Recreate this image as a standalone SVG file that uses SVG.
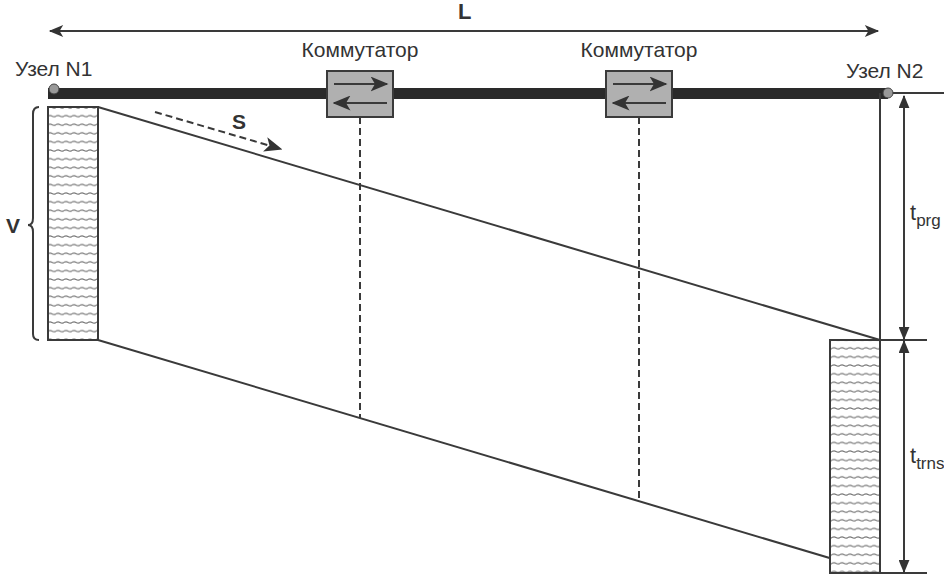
<svg xmlns="http://www.w3.org/2000/svg" width="944" height="576" viewBox="0 0 944 576">
<defs>
<style>
.t{font-family:"Liberation Sans",Arial,sans-serif;fill:#333;}
.ln{stroke:#3a3a3a;stroke-width:2;fill:none;}
.dash{stroke:#3a3a3a;stroke-width:2;stroke-dasharray:7 4;fill:none;}
.sw{fill:#b0b0b0;stroke:#3a3a3a;stroke-width:2;}
.pkt{fill:url(#hatch);stroke:#3a3a3a;stroke-width:2;}
</style>
<pattern id="hatch" patternUnits="userSpaceOnUse" width="8" height="8.6">
<rect width="8" height="8.6" fill="#fff"/>
<path d="M0 4.3 Q2 3 4 4.3 T8 4.3" stroke="#777" stroke-width="1.2" fill="none"/>
</pattern>
<marker id="ah" viewBox="0 0 12 10" refX="11" refY="5" markerWidth="13" markerHeight="11" markerUnits="userSpaceOnUse" orient="auto-start-reverse">
<path d="M0 0 L12 5 L0 10 Z" fill="#333"/>
</marker>
<marker id="ahs" viewBox="0 0 12 10" refX="11" refY="5" markerWidth="16" markerHeight="12" markerUnits="userSpaceOnUse" orient="auto-start-reverse">
<path d="M0 0 L12 5 L0 10 L3 5 Z" fill="#333"/>
</marker>
<marker id="ahw" viewBox="0 0 12 10" refX="11" refY="5" markerWidth="18" markerHeight="15" markerUnits="userSpaceOnUse" orient="auto">
<path d="M0 0 L12 5 L0 10 L3 5 Z" fill="#333"/>
</marker>
</defs>
<rect width="944" height="576" fill="#fff"/>

<g id="connectors">
<line class="ln" x1="50" y1="31" x2="878" y2="31" marker-start="url(#ahs)" marker-end="url(#ahs)"/>
<line x1="48" y1="93.5" x2="888" y2="93.5" stroke="#2a2a2a" stroke-width="11"/>
<line class="dash" x1="360" y1="117" x2="360" y2="418"/>
<line class="dash" x1="639" y1="117" x2="639" y2="501"/>
<line class="ln" x1="98" y1="107" x2="880" y2="340"/>
<line class="ln" x1="98" y1="340" x2="880" y2="573"/>
<line class="dash" x1="155" y1="112" x2="281" y2="149" marker-end="url(#ahw)"/>
<line class="ln" x1="880" y1="93" x2="880" y2="574"/>
<line class="ln" x1="888" y1="93" x2="944" y2="93"/>
<line class="ln" x1="880" y1="340" x2="927" y2="340"/>
<line class="ln" x1="880" y1="573" x2="927" y2="573"/>
<line class="ln" x1="904" y1="96" x2="904" y2="339" marker-start="url(#ah)" marker-end="url(#ah)"/>
<line class="ln" x1="904" y1="341" x2="904" y2="572" marker-start="url(#ah)" marker-end="url(#ah)"/>
</g>

<g id="node1">
<circle cx="54" cy="89" r="5" fill="#999" stroke="#444" stroke-width="1"/>
<text class="t" x="15" y="76" font-size="21">Узел N1</text>
</g>
<g id="node2">
<circle cx="888" cy="93" r="5" fill="#999" stroke="#444" stroke-width="1"/>
<text class="t" x="846" y="78" font-size="21">Узел N2</text>
</g>

<g id="switch1">
<rect class="sw" x="327" y="71" width="66" height="46"/>
<line class="ln" x1="334" y1="84" x2="387" y2="84" marker-end="url(#ahw)"/>
<line class="ln" x1="387" y1="103" x2="334" y2="103" marker-end="url(#ahw)"/>
<text class="t" x="360" y="57" font-size="21" text-anchor="middle">Коммутатор</text>
</g>
<g id="switch2">
<rect class="sw" x="606" y="71" width="66" height="46"/>
<line class="ln" x1="613" y1="84" x2="666" y2="84" marker-end="url(#ahw)"/>
<line class="ln" x1="666" y1="103" x2="613" y2="103" marker-end="url(#ahw)"/>
<text class="t" x="639" y="57" font-size="21" text-anchor="middle">Коммутатор</text>
</g>

<g id="packet1">
<rect class="pkt" x="48" y="107" width="50" height="233"/>
<path class="ln" d="M39 107 Q33 107 33 114 L33 218 Q33 225 28 225 Q33 225 33 232 L33 334 Q33 340 39 340"/>
<text class="t" x="6" y="233" font-size="21" font-weight="bold">V</text>
</g>
<g id="packet2">
<rect class="pkt" x="830" y="340" width="50" height="233"/>
</g>

<g id="labels">
<text class="t" x="458" y="19" font-size="22" font-weight="bold">L</text>
<text class="t" x="232" y="129" font-size="21" font-weight="bold">S</text>
<text class="t" x="910" y="220" font-size="22">t<tspan font-size="17" dy="6">prg</tspan></text>
<text class="t" x="910" y="463" font-size="22">t<tspan font-size="17" dy="6">trns</tspan></text>
</g>
</svg>
